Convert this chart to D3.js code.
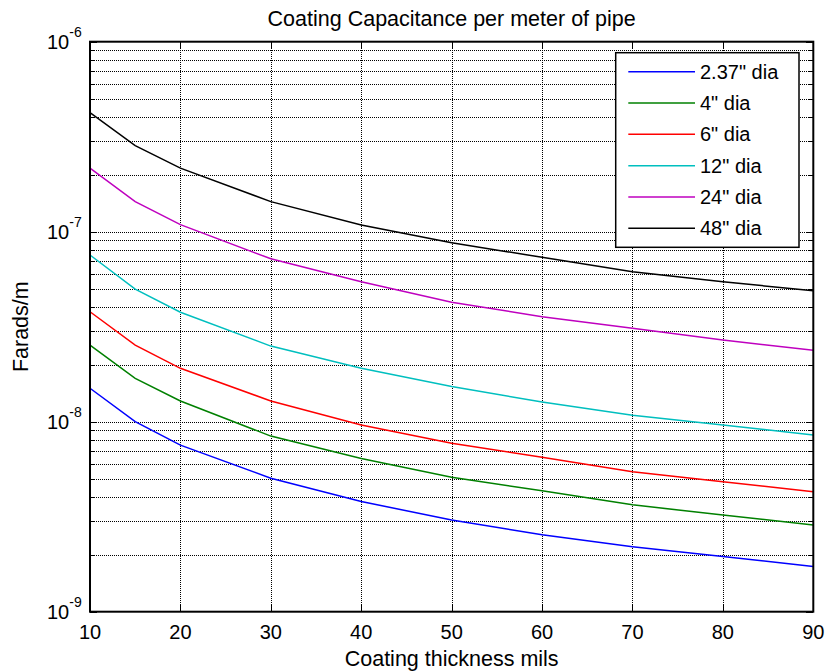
<!DOCTYPE html>
<html>
<head>
<meta charset="utf-8">
<script src="https://cdn.jsdelivr.net/npm/d3@7"></script>
<style>
  html, body { margin: 0; padding: 0; background: #fff; }
  svg { display: block; font-family: "Liberation Sans", Arial, Helvetica, sans-serif; }
</style>
</head>
<body>
<svg id="chart" width="828" height="672"></svg>
<script>
// Coating thickness (mils) at which capacitance was evaluated
const thickness = [10, 15, 20, 30, 40, 50, 60, 70, 80, 90];

// Capacitance per meter (F/m) for each pipe diameter
const dia237 = [1.50e-8, 1.00e-8, 7.53e-9, 5.04e-9, 3.80e-9, 3.04e-9, 2.54e-9, 2.20e-9, 1.95e-9, 1.73e-9];
const dia4   = [2.53e-8, 1.69e-8, 1.285e-8, 8.40e-9, 6.41e-9, 5.10e-9, 4.33e-9, 3.65e-9, 3.23e-9, 2.86e-9];
const dia6   = [3.79e-8, 2.53e-8, 1.91e-8, 1.286e-8, 9.60e-9, 7.70e-9, 6.50e-9, 5.46e-9, 4.83e-9, 4.28e-9];
const dia12  = [7.54e-8, 4.99e-8, 3.77e-8, 2.50e-8, 1.91e-8, 1.53e-8, 1.27e-8, 1.08e-8, 9.60e-9, 8.51e-9];
const dia24  = [2.16e-7, 1.44e-7, 1.09e-7, 7.20e-8, 5.45e-8, 4.25e-8, 3.57e-8, 3.10e-8, 2.69e-8, 2.38e-8];
const dia48  = [4.23e-7, 2.84e-7, 2.16e-7, 1.44e-7, 1.085e-7, 8.75e-8, 7.33e-8, 6.16e-8, 5.45e-8, 4.89e-8];

const seriesNames  = ['2.37" dia', '4" dia', '6" dia', '12" dia', '24" dia', '48" dia'];
const seriesValues = [dia237, dia4, dia6, dia12, dia24, dia48];
const seriesColors = ['#0000ff', '#008000', '#ff0000', '#00bfbf', '#bf00bf', '#000000'];

const xTicks = [10, 20, 30, 40, 50, 60, 70, 80, 90];
const yDecades = [-9, -8, -7, -6];

const titleText = 'Coating Capacitance per meter of pipe';
const xLabelText = 'Coating thickness mils';
const yLabelText = 'Farads/m';

(function draw() {
  // Plot box
  const pL = 90, pR = 813.3, pT = 41.7, pB = 611.7;

  const svg = d3.select('#chart');

  const x = d3.scaleLinear().domain([10, 90]).range([pL, pR]);
  const y = d3.scaleLog().domain([1e-9, 1e-6]).range([pB, pT]);

  const dotted = '1,1';

  // Grid: dotted lines at every log tick (major and minor) and every x tick
  const grid = svg.append('g').attr('stroke', '#000').attr('stroke-width', 1.3)
    .attr('stroke-dasharray', dotted).attr('fill', 'none')
    .attr('shape-rendering', 'crispEdges');

  const yGridTicks = y.ticks().filter(v => v > 1e-9 * 1.0001 && v < 1e-6 * 0.9999);
  grid.selectAll('line.hy').data(yGridTicks).join('line')
    .attr('class', 'hy')
    .attr('x1', pL).attr('x2', pR)
    .attr('y1', d => Math.round(y(d)) + 0.5).attr('y2', d => Math.round(y(d)) + 0.5);

  grid.selectAll('line.vx').data(xTicks.slice(1, -1)).join('line')
    .attr('class', 'vx')
    .attr('x1', d => Math.round(x(d)) + 0.5).attr('x2', d => Math.round(x(d)) + 0.5)
    .attr('y1', pT).attr('y2', pB);

  // Data lines
  const line = d3.line().x((d, i) => x(thickness[i])).y(d => y(d));
  svg.append('g').selectAll('path').data(seriesValues).join('path')
    .attr('d', d => line(d))
    .attr('fill', 'none')
    .attr('stroke', (d, i) => seriesColors[i])
    .attr('stroke-width', 1.5);

  // Tick marks on all four sides, pointing inward
  const ticks = svg.append('g').attr('stroke', '#000').attr('stroke-width', 1)
    .attr('shape-rendering', 'crispEdges');
  y.ticks().forEach(v => {
    const isMajor = Math.abs(Math.log10(v) - Math.round(Math.log10(v))) < 1e-6;
    const len = isMajor ? 7 : 4;
    const yy = Math.round(y(v)) + 0.5;
    ticks.append('line').attr('x1', pL).attr('x2', pL + len).attr('y1', yy).attr('y2', yy);
    ticks.append('line').attr('x1', pR).attr('x2', pR - len).attr('y1', yy).attr('y2', yy);
  });
  xTicks.forEach(v => {
    const xx = Math.round(x(v)) + 0.5;
    ticks.append('line').attr('x1', xx).attr('x2', xx).attr('y1', pB).attr('y2', pB - 7);
    ticks.append('line').attr('x1', xx).attr('x2', xx).attr('y1', pT).attr('y2', pT + 7);
  });

  // Axes box
  svg.append('rect')
    .attr('x', pL).attr('y', pT)
    .attr('width', pR - pL).attr('height', pB - pT)
    .attr('fill', 'none').attr('stroke', '#000').attr('stroke-width', 2);

  // X tick labels
  svg.append('g').selectAll('text').data(xTicks).join('text')
    .attr('x', d => x(d)).attr('y', pB + 27)
    .attr('text-anchor', 'middle')
    .attr('font-size', 20)
    .attr('fill', '#000')
    .text(d => d);

  // Y tick labels: 10 with superscript exponent
  const yl = svg.append('g').selectAll('text').data(yDecades).join('text')
    .attr('x', 47).attr('y', d => y(Math.pow(10, d)) + 7)
    .attr('text-anchor', 'start')
    .attr('font-size', 20)
    .attr('fill', '#000');
  yl.append('tspan').text('10');
  yl.append('tspan').attr('dy', -12).attr('font-size', 14).text(d => d);

  // Title and axis labels
  svg.append('text')
    .attr('x', (pL + pR) / 2).attr('y', 26)
    .attr('text-anchor', 'middle').attr('font-size', 21.5).attr('fill', '#000')
    .text(titleText);

  svg.append('text')
    .attr('x', (pL + pR) / 2).attr('y', 666)
    .attr('text-anchor', 'middle').attr('font-size', 21.5).attr('fill', '#000')
    .text(xLabelText);

  svg.append('text')
    .attr('transform', `translate(28,${(pT + pB) / 2}) rotate(-90)`)
    .attr('text-anchor', 'middle').attr('font-size', 21.5).attr('fill', '#000')
    .text(yLabelText);

  // Legend
  const lgX = 615.7, lgY = 52.7, lgW = 183.3, lgH = 194.6;
  const legend = svg.append('g');
  legend.append('rect')
    .attr('x', lgX).attr('y', lgY).attr('width', lgW).attr('height', lgH)
    .attr('fill', '#fff').attr('stroke', '#000').attr('stroke-width', 1.5);
  const rowY = d3.scaleLinear().domain([0, seriesNames.length - 1]).range([lgY + 19, lgY + 175.6]);
  const items = legend.selectAll('g.item').data(seriesNames).join('g').attr('class', 'item');
  items.append('line')
    .attr('x1', 628.3).attr('x2', 695)
    .attr('y1', (d, i) => rowY(i)).attr('y2', (d, i) => rowY(i))
    .attr('stroke', (d, i) => seriesColors[i]).attr('stroke-width', 1.5);
  items.append('text')
    .attr('x', 700).attr('y', (d, i) => rowY(i) + 7)
    .attr('font-size', 20).attr('fill', '#000')
    .text(d => d);
})();
</script>
</body>
</html>
